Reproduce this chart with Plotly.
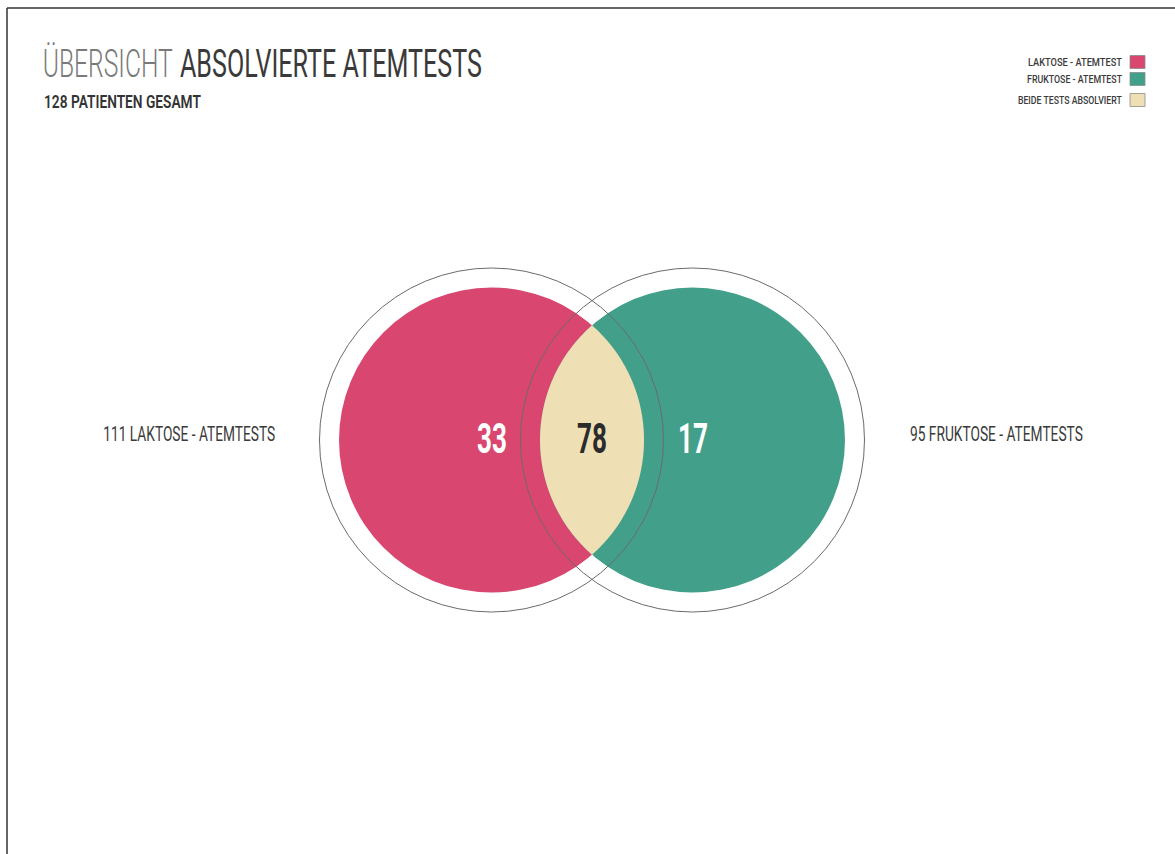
import numpy as np
import plotly.graph_objects as go

# Venn counts
only_laktose = 33
both_tests = 78
only_fruktose = 17
total_laktose = only_laktose + both_tests      # 111
total_fruktose = only_fruktose + both_tests    # 95
total_patients = only_laktose + both_tests + only_fruktose  # 128

legend_labels = ["LAKTOSE - ATEMTEST", "FRUKTOSE - ATEMTEST", "BEIDE TESTS ABSOLVIERT"]
colors = ["#D94670", "#42A08A", "#EEDFB4"]

W, H = 1175, 854
FONT = "Roboto, Inter, sans-serif"

# circle layout (pixel space)
cy = 440
cx_left, cx_right = 491.5, 692.5
r_fill, r_ring = 152.5, 172


def lens_path(c1, c2, r, cy, n=80):
    d = c2 - c1
    h = np.sqrt(r**2 - (d / 2) ** 2)
    a = np.arcsin(h / r)
    # arc of the right circle (left side of the lens)
    t1 = np.linspace(np.pi - a, np.pi + a, n)
    xs1 = c2 + r * np.cos(t1)
    ys1 = cy + r * np.sin(t1)
    # arc of the left circle (right side of the lens)
    t2 = np.linspace(a, -a, n)
    xs2 = c1 + r * np.cos(t2)
    ys2 = cy + r * np.sin(t2)
    xs = np.concatenate([xs1, xs2])
    ys = np.concatenate([ys1, ys2])
    return "M " + " L ".join(f"{x:.2f},{y:.2f}" for x, y in zip(xs, ys)) + " Z"


fig = go.Figure()
fig.add_trace(go.Scatter(x=[0, W], y=[0, H], mode="markers", marker=dict(opacity=0),
                         hoverinfo="skip", showlegend=False))

shapes = []


def circle(cx, r, **kw):
    return dict(type="circle", xref="x", yref="y", x0=cx - r, x1=cx + r, y0=cy - r, y1=cy + r, **kw)


shapes.append(circle(cx_left, r_fill, fillcolor=colors[0], line=dict(width=0), layer="above"))
shapes.append(circle(cx_right, r_fill, fillcolor=colors[1], line=dict(width=0), layer="above"))
shapes.append(dict(type="path", xref="x", yref="y", path=lens_path(cx_left, cx_right, r_fill, cy),
                   fillcolor=colors[2], line=dict(width=0), layer="above"))
shapes.append(circle(cx_left, r_ring, line=dict(color="#6b6b6b", width=1), layer="above"))
shapes.append(circle(cx_right, r_ring, line=dict(color="#6b6b6b", width=1), layer="above"))

# page frame (top and left edges)
shapes.append(dict(type="line", xref="paper", yref="paper", x0=7 / W, x1=1, y0=1 - 8 / H, y1=1 - 8 / H,
                   line=dict(color="#333333", width=1.5)))
shapes.append(dict(type="line", xref="paper", yref="paper", x0=7 / W, x1=7 / W, y0=0, y1=1 - 8 / H,
                   line=dict(color="#333333", width=1.5)))

# legend swatches
leg_y = [62, 79, 100]
for c, y in zip(colors, leg_y):
    shapes.append(dict(type="rect", xref="x", yref="y", x0=1130, x1=1145, y0=y - 6.5, y1=y + 6.5,
                       fillcolor=c, line=dict(color="#8a8a8a", width=0.8)))

ann = []
widths = []   # rendered text widths of the condensed lettering
anchors = []  # 0 = left, 0.5 = center, 1 = right


def add(text, x, y, size, color, xanchor, width, weight=400):
    ann.append(dict(x=x, y=y, xref="x", yref="y", xanchor=xanchor, yanchor="middle", showarrow=False,
                    align=xanchor, text=text,
                    font=dict(family=FONT, size=size, color=color, weight=weight)))
    widths.append(width)
    anchors.append({"left": 0, "center": 0.5, "right": 1}[xanchor])


# the light first word is anchored at its right end, the rest at its left start
add("ÜBERSICHT", 175, 64, 39, "#7a7a7a", "right", 130, weight=300)
add("ABSOLVIERTE ATEMTESTS", 178, 64, 39, "#3a3a3a", "left", 302)
add(f"{total_patients} PATIENTEN GESAMT", 42, 101, 18, "#333333", "left", 157, weight=600)
for lab, y, w in zip(legend_labels, leg_y, [94, 95, 104]):
    add(lab, 1124, y, 11.5, "#3a3a3a", "right", w, weight=500)

add(f"{total_laktose} LAKTOSE - ATEMTESTS", 277, 434, 19.5, "#3a3a3a", "right", 172)
add(f"{total_fruktose} FRUKTOSE - ATEMTESTS", 908, 434, 19.5, "#3a3a3a", "left", 173)

num_x = [cx_left, (cx_left + cx_right) / 2, cx_right]
num_vals = [only_laktose, both_tests, only_fruktose]
num_cols = ["#ffffff", "#2b2b2b", "#ffffff"]
for x, v, c in zip(num_x, num_vals, num_cols):
    add(str(v), x, 438, 42, c, "center", 30, weight=700)

fig.update_layout(
    width=W, height=H, margin=dict(l=0, r=0, t=0, b=0),
    paper_bgcolor="#ffffff", plot_bgcolor="#ffffff",
    xaxis=dict(range=[0, W], visible=False, fixedrange=True),
    yaxis=dict(range=[H, 0], visible=False, fixedrange=True),
    shapes=shapes, annotations=ann, showlegend=False,
)

# squeeze the lettering horizontally to a condensed face, scaling each text
# about its anchor point and shrinking its box to match
condense_js = """
var gd = document.getElementById('{plot_id}');
var W = %s;
var F = %s;
function condense() {
  gd.querySelectorAll('g.annotation').forEach(function (g) {
    var i = +g.getAttribute('data-index');
    var t = g.querySelector('text.annotation-text');
    if (!t || isNaN(i) || W[i] === undefined || t.getAttribute('data-cond')) return;
    t.setAttribute('data-cond', '1');
    var w0 = t.getComputedTextLength();
    if (!(w0 > 0)) return;
    var s = W[i] / w0;
    var r = g.querySelector('rect.bg');
    var inner = r ? r.parentNode : null;
    var dx = 0;
    if (r) {
      var rw0 = +r.getAttribute('width');
      var rw1 = Math.max(1, rw0 - (w0 - W[i]));
      dx = (rw0 - rw1) * F[i];
      r.setAttribute('width', rw1);
      var m = /translate\\(\\s*([-\\d.e]+)[\\s,]+([-\\d.e]+)\\s*\\)/.exec(inner.getAttribute('transform') || '');
      if (m) {
        inner.setAttribute('transform', 'translate(' + (+m[1] + dx) + ',' + m[2] + ')');
      } else {
        dx = 0;
      }
    }
    var ax = (+t.getAttribute('x') || 0) - dx;
    t.setAttribute('x', ax);
    t.setAttribute('transform', 'translate(' + ax + ',0) scale(' + s + ',1) translate(' + (-ax) + ',0)');
  });
}
condense();
gd.on('plotly_afterplot', condense);
""" % (str(widths), str(anchors))

fig.write_html("out.html", post_script=condense_js)
